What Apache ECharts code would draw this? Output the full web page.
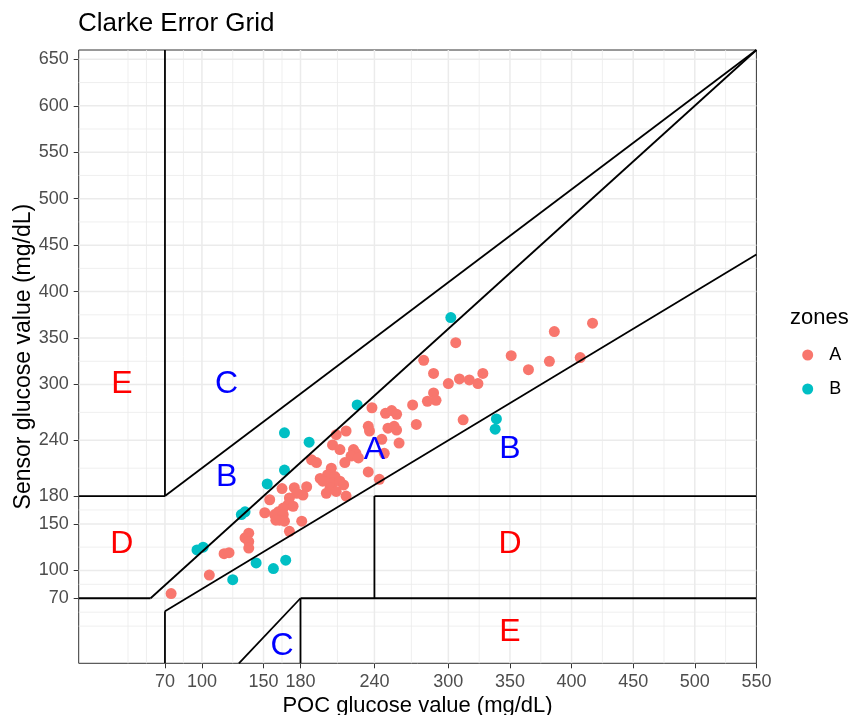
<!DOCTYPE html>
<html><head><meta charset="utf-8">
<script src="https://cdn.jsdelivr.net/npm/echarts@6/dist/echarts.min.js"></script>
<style>html,body{margin:0;padding:0;background:#fff;}#c{width:850px;height:715px;}</style>
</head><body><div id="c"></div>
<script>
// Axis breaks
const xTicks = [70, 100, 150, 180, 240, 300, 350, 400, 450, 500, 550];
const yTicks = [70, 100, 150, 180, 240, 300, 350, 400, 450, 500, 550, 600, 650];
const xMinor = [40, 55, 85, 125, 165, 210, 270, 325, 375, 425, 475, 525];
const yMinor = [40, 55, 85, 125, 165, 210, 270, 325, 375, 425, 475, 525, 575, 625];

// Observations [POC, Sensor]
const zoneA = [
  [417,366],[386,357],[306,345],[351,331],[382,325],[407,329],[365,316],[280,326],[288,312],[300,301],
  [309,306],[317,305],[324,301],[328,312],[288,291],[283,282],[290,283],[271,278],[312,262],[274,257],
  [249,269],[254,272],[258,268],[251,253],[256,255],[258,251],[260,237],[246,241],[248,226],[244,198],
  [238,275],[235,255],[236,250],[217,250],[209,246],[206,235],[212,230],[223,230],[225,226],[221,223],
  [227,221],[189,219],[193,216],[216,216],[205,210],[202,203],[208,201],[235,206],[196,199],[206,194],
  [212,196],[215,192],[204,189],[209,185],[201,183],[185,190],[182,181],[217,180],[198,196],[165,188],
  [175,189],[177,183],[171,178],[170,171],[174,169],[166,167],[155,176],[151,162],[159,160],[162,163],
  [166,160],[163,154],[167,153],[160,154],[181,153],[171,142],[138,140],[135,135],[138,131],[138,124],
  [118,118],[122,119],[106,95],[75,75]
];
const zoneB = [
  [302,372],[226,278],[167,248],[187,238],[167,208],[153,193],[135,163],[132,160],[101,125],[96,122],
  [125,90],[144,108],[158,102],[168,111],[339,263],[338,252]
];

// Clarke grid boundaries [x1, y1, x2, y2]
const boundaries = [
  [0,180,70,180],[70,180,70,660],[70,180,550,660],[0,70,58.33,70],[58.33,70,550,660],
  [70,0,70,56],[70,56,550,440],[240,70,240,180],[240,180,550,180],[130,0,180,70],
  [180,0,180,70],[180,70,550,70]
];

// Zone letters
const zoneLetters = ['E','C','B','A','B','D','D','E','C'];
const zoneLetterX = [35, 120, 120, 240, 350, 35, 350, 350, 165];
const zoneLetterY = [300, 300, 200, 229, 230, 128, 128, 33, 18];

const FONT = '"Liberation Sans", Arial, Helvetica, sans-serif';
const XMAX = 550, YMAX = 660;

const gridData = [];
xTicks.filter(v => v > 0 && v < XMAX).forEach(v => gridData.push([v, 0, 1]));
xMinor.filter(v => v > 0 && v < XMAX).forEach(v => gridData.push([v, 0, 0]));
yTicks.filter(v => v > 0 && v < YMAX).forEach(v => gridData.push([v, 1, 1]));
yMinor.filter(v => v > 0 && v < YMAX).forEach(v => gridData.push([v, 1, 0]));

const chart = echarts.init(document.getElementById('c'), null, {renderer: 'canvas'});
chart.setOption({
  animation: false,
  backgroundColor: '#fff',
  textStyle: {fontFamily: FONT},
  title: [
    {text: 'Clarke Error Grid', left: 78, top: 11, padding: 0,
     textStyle: {fontSize: 26, fontWeight: 'normal', color: '#000', fontFamily: FONT}},
    {text: 'zones', left: 790, top: 307, padding: 0,
     textStyle: {fontSize: 22, fontWeight: 'normal', color: '#000', fontFamily: FONT}}
  ],
  legend: {
    orient: 'vertical', left: 802.2, top: 346, padding: 0,
    itemWidth: 11, itemHeight: 11, itemGap: 16, icon: 'circle',
    data: ['A', 'B'],
    textStyle: {fontSize: 18, color: '#000', padding: [0, 0, 0, 11], fontFamily: FONT}
  },
  grid: {left: 78.7, right: 93.6, top: 50, bottom: 51.7, show: true,
         borderColor: '#333', borderWidth: 1, backgroundColor: '#fff',
         containLabel: false, outerBoundsMode: 'none'},
  xAxis: {
    type: 'value', min: 0, max: XMAX,
    name: 'POC glucose value (mg/dL)', nameLocation: 'middle', nameGap: 32,
    nameMoveOverlap: false,
    nameTextStyle: {fontSize: 22, color: '#000', fontFamily: FONT},
    axisLine: {show: false},
    splitLine: {show: false},
    axisTick: {show: true, customValues: xTicks, length: 5, lineStyle: {color: '#333', width: 1}},
    axisLabel: {customValues: xTicks, fontSize: 18, color: '#4D4D4D', margin: 10, fontFamily: FONT}
  },
  yAxis: {
    type: 'value', min: 0, max: YMAX,
    name: 'Sensor glucose value (mg/dL)', nameLocation: 'middle', nameGap: 43.5,
    nameMoveOverlap: false,
    nameTextStyle: {fontSize: 23, color: '#000', fontFamily: FONT},
    axisLine: {show: false},
    splitLine: {show: false},
    axisTick: {show: true, customValues: yTicks, length: 5, lineStyle: {color: '#333', width: 1}},
    axisLabel: {customValues: yTicks, fontSize: 18, color: '#4D4D4D', margin: 10,
                padding: [3, 0, 0, 0], fontFamily: FONT}
  },
  series: [
    {
      type: 'custom', z: 1, silent: true, data: gridData,
      renderItem: function (params, api) {
        const v = api.value(0), orient = api.value(1), major = api.value(2);
        const cs = params.coordSys;
        let shape;
        if (orient === 0) {
          const p = api.coord([v, 0]);
          shape = {x1: p[0], y1: cs.y, x2: p[0], y2: cs.y + cs.height};
        } else {
          const p = api.coord([0, v]);
          shape = {x1: cs.x, y1: p[1], x2: cs.x + cs.width, y2: p[1]};
        }
        return {type: 'line', shape: shape, silent: true,
                style: {stroke: '#EBEBEB', lineWidth: major ? 1.5 : 0.8}};
      }
    },
    {
      name: 'A', type: 'scatter', z: 3, data: zoneA, symbolSize: 11,
      itemStyle: {color: '#F8766D', opacity: 1}
    },
    {
      name: 'B', type: 'scatter', z: 3, data: zoneB, symbolSize: 11,
      itemStyle: {color: '#00BFC4', opacity: 1}
    },
    {
      type: 'custom', z: 4, silent: true, data: boundaries,
      renderItem: function (params, api) {
        const p1 = api.coord([api.value(0), api.value(1)]);
        const p2 = api.coord([api.value(2), api.value(3)]);
        return {type: 'line', shape: {x1: p1[0], y1: p1[1], x2: p2[0], y2: p2[1]},
                style: {stroke: '#000', lineWidth: 1.8}};
      }
    },
    {
      type: 'custom', z: 5, silent: true,
      data: zoneLetterX.map((x, i) => [x, zoneLetterY[i]]),
      renderItem: function (params, api) {
        const p = api.coord([api.value(0), api.value(1)]);
        const t = zoneLetters[params.dataIndex];
        const col = (t === 'D' || t === 'E') ? '#FF0000' : '#0000FF';
        return {type: 'text', x: p[0], y: p[1],
                style: {text: t, fill: col, fontSize: 32, fontFamily: FONT,
                        align: 'center', verticalAlign: 'middle'}};
      }
    }
  ]
});
</script></body></html>
